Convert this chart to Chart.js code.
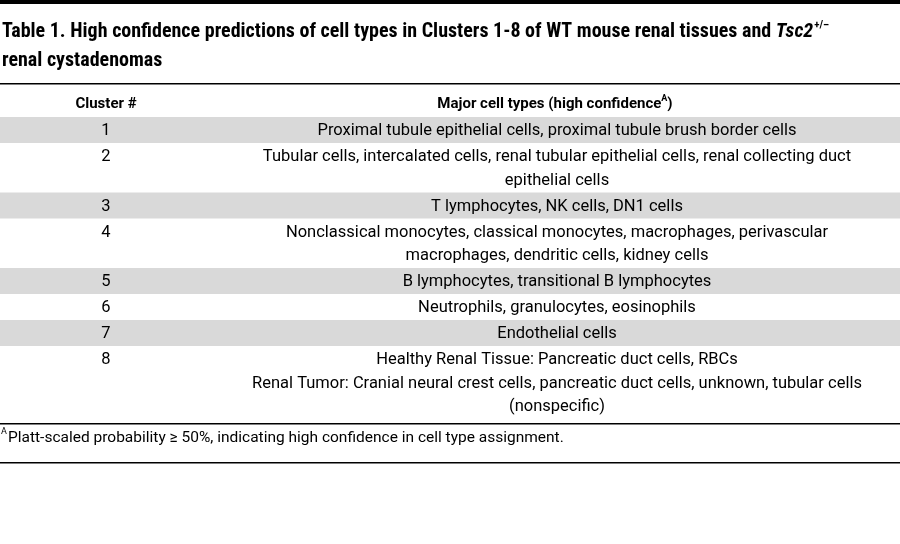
<!DOCTYPE html>
<html>
<head>
<meta charset="utf-8">
<script src="https://cdn.jsdelivr.net/npm/chart.js@4/dist/chart.umd.min.js"></script>
<style>
  html, body { margin: 0; padding: 0; background: #fff; }
  #wrap { width: 900px; height: 544px; }
</style>
</head>
<body>
<div id="wrap"><canvas id="tableChart"></canvas></div>
<script>
// Table data
const titleLines = ['Table 1. High confidence predictions of cell types in Clusters 1-8 of WT mouse renal tissues and ', 'renal cystadenomas'];
const headers = ['Cluster #', 'Major cell types (high confidence'];
const clusters = ['1', '2', '3', '4', '5', '6', '7', '8'];
const cellTypes = [
    ['Proximal tubule epithelial cells, proximal tubule brush border cells'],
    ['Tubular cells, intercalated cells, renal tubular epithelial cells, renal collecting duct', 'epithelial cells'],
    ['T lymphocytes, NK cells, DN1 cells'],
    ['Nonclassical monocytes, classical monocytes, macrophages, perivascular', 'macrophages, dendritic cells, kidney cells'],
    ['B lymphocytes, transitional B lymphocytes'],
    ['Neutrophils, granulocytes, eosinophils'],
    ['Endothelial cells'],
    ['Healthy Renal Tissue: Pancreatic duct cells, RBCs', 'Renal Tumor: Cranial neural crest cells, pancreatic duct cells, unknown, tubular cells', '(nonspecific)']
];
const shaded = [true, false, true, false, true, false, true, false];
const footnote = 'Platt-scaled probability \u2265 50%, indicating high confidence in cell type assignment.';

const TFONT = '"Roboto Condensed", "Liberation Sans Narrow", Roboto, sans-serif';
const FONT = 'Roboto, "Noto Sans", sans-serif';

const tablePlugin = {
    id: 'tablePlugin',
    afterDraw(chart) {
        const c = chart.ctx;
        const W = chart.width;
        c.save();
        c.fillStyle = '#000';
        c.fillRect(0, 0, W, 4);

        // title
        c.font = 'bold 20px ' + TFONT;
        c.textBaseline = 'alphabetic';
        c.textAlign = 'left';
        c.fillText(titleLines[0], 2, 37);
        let tx = 2 + c.measureText(titleLines[0]).width;
        c.font = 'italic bold 20px ' + TFONT;
        c.fillText('Tsc2', tx, 37);
        tx += c.measureText('Tsc2').width;
        c.font = 'bold 11px ' + TFONT;
        c.fillText('+/\u2013', tx + 1, 28);
        c.font = 'bold 20px ' + TFONT;
        c.fillText(titleLines[1], 2, 66);

        c.fillRect(0, 83, W, 1.5);

        // header
        const colA = 106, colB = 557;
        c.font = 'bold 15px ' + FONT;
        c.textAlign = 'center';
        c.textBaseline = 'middle';
        c.fillText(headers[0], colA, 104);
        const hw = c.measureText(headers[1] + 'A)').width;
        c.textAlign = 'left';
        let hx = colB - hw / 2;
        c.fillText(headers[1], hx, 104);
        hx += c.measureText(headers[1]).width;
        c.font = 'bold 9px ' + FONT;
        c.fillText('A', hx, 99);
        hx += c.measureText('A').width;
        c.font = 'bold 15px ' + FONT;
        c.fillText(')', hx, 104);

        // rows
        const lineH = 23.5;
        let y = 117;
        c.font = '16.5px ' + FONT;
        c.textAlign = 'center';
        clusters.forEach((cl, i) => {
            const lines = cellTypes[i];
            const h = lines.length * lineH + 2.5;
            if (shaded[i]) {
                c.fillStyle = '#d9d9d9';
                c.fillRect(0, y, W, h);
            }
            c.fillStyle = '#000';
            c.fillText(cl, colA, y + 14);
            lines.forEach((ln, j) => c.fillText(ln, colB, y + 14 + j * lineH));
            y += h;
        });

        c.fillRect(0, 423, W, 1.5);

        // footnote
        c.textAlign = 'left';
        c.font = '9px ' + FONT;
        c.fillText('A', 1, 432);
        c.font = '15.5px ' + FONT;
        c.fillText(footnote, 8, 438);
        c.fillRect(0, 462, W, 1.5);
        c.restore();
    }
};

new Chart(document.getElementById('tableChart'), {
    type: 'bar',
    data: { labels: clusters, datasets: [] },
    options: {
        responsive: true,
        maintainAspectRatio: false,
        animation: false,
        plugins: { legend: { display: false }, tooltip: { enabled: false } },
        scales: { x: { display: false }, y: { display: false } }
    },
    plugins: [tablePlugin]
});
</script>
</body>
</html>
